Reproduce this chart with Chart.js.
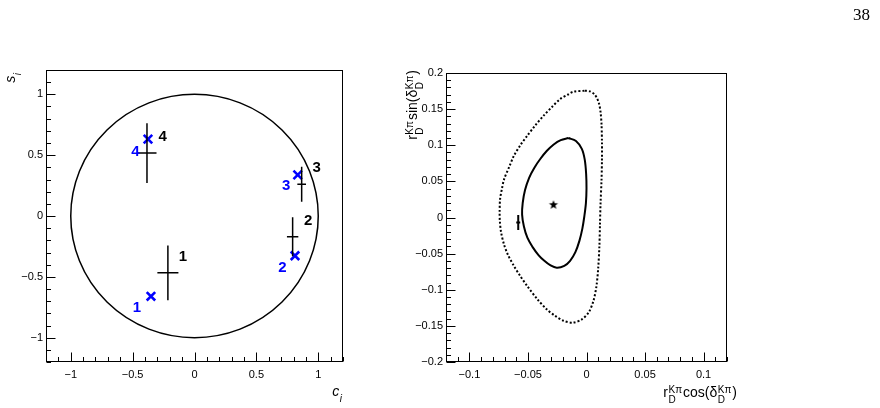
<!DOCTYPE html>
<html><head><meta charset="utf-8">
<script src="https://cdn.jsdelivr.net/npm/chart.js@4.4.0/dist/chart.umd.min.js"></script>
<style>
html,body{margin:0;padding:0;background:#fff;}
#wrap{position:relative;width:880px;height:408px;overflow:hidden;background:#fff;}
#c1{position:absolute;left:0;top:0;}
#c2{position:absolute;left:380px;top:0;}
#page{position:absolute;left:853px;top:5px;font:17px "Liberation Serif",serif;color:#000;}
</style></head><body>
<div id="wrap">
<canvas id="c1" width="380" height="408"></canvas>
<canvas id="c2" width="500" height="408"></canvas>
<div id="page">38</div>
</div>
<script>
// ---------------- data: left panel (c_i, s_i) ----------------
const binLabels   = ['1', '2', '3', '4'];
const measC       = [-0.215, 0.793, 0.866, -0.384];
const measS       = [-0.467, -0.170, 0.261, 0.517];
const measCErr    = [0.085, 0.046, 0.035, 0.077];
const measSErr    = [0.225, 0.160, 0.144, 0.245];
const predC       = [-0.352, 0.812, 0.834, -0.376];
const predS       = [-0.660, -0.327, 0.338, 0.632];
const measLabelC  = [-0.094, 0.919, 0.987, -0.258];
const measLabelS  = [-0.335, -0.041, 0.394, 0.654];
const predLabelC  = [-0.465, 0.711, 0.740, -0.477];
const predLabelS  = [-0.753, -0.423, 0.247, 0.530];
const circleRadius = 1;
const leftXTickLabels = [-1, -0.5, 0, 0.5, 1];
const leftYTickLabels = [-1, -0.5, 0, 0.5, 1];

// ---------------- data: right panel ----------------
const innerX = [-0.0155, -0.009, -0.004, -0.0015, -0.0003, 0.0, -0.0005, -0.002, -0.0035, -0.006, -0.0095, -0.014, -0.019, -0.0254,
                -0.031, -0.036, -0.041, -0.046, -0.0505, -0.0535, -0.055, -0.0545, -0.0525, -0.049, -0.0445, -0.0395, -0.034, -0.028, -0.022, -0.0155];
const innerY = [0.110, 0.106, 0.095, 0.080, 0.060, 0.040, 0.020, 0.000, -0.015, -0.032, -0.048, -0.060, -0.067, -0.0695,
                -0.066, -0.060, -0.052, -0.041, -0.028, -0.012, 0.004, 0.020, 0.038, 0.055, 0.069, 0.081, 0.092, 0.101, 0.107, 0.110];
const outerX = [-0.0014, 0.003, 0.0065, 0.009, 0.0108, 0.012, 0.0128, 0.0132, 0.0132, 0.0128, 0.012, 0.0115, 0.011, 0.010, 0.0085, 0.006, 0.002, -0.004, -0.0115,
                -0.0195, -0.027, -0.034, -0.042, -0.0507, -0.057, -0.062, -0.067, -0.0705, -0.073, -0.074, -0.0742, -0.0738, -0.0722, -0.0704,
                -0.066, -0.062, -0.0565, -0.0507, -0.044, -0.0366, -0.0295, -0.0225, -0.016, -0.0113, -0.0014];
const outerY = [0.1755, 0.1745, 0.171, 0.165, 0.157, 0.146, 0.130, 0.105, 0.080, 0.050, 0.020, -0.010, -0.040, -0.070, -0.095, -0.115, -0.131, -0.141, -0.1455,
                -0.143, -0.136, -0.127, -0.113, -0.0947, -0.080, -0.067, -0.052, -0.037, -0.020, -0.005, 0.007, 0.0254, 0.040, 0.053,
                0.070, 0.0855, 0.100, 0.113, 0.127, 0.141, 0.153, 0.164, 0.170, 0.174, 0.1755];
const bestFitX = [-0.0282];
const bestFitY = [0.0174];
const extX    = [-0.0583];
const extY    = [-0.0069];
const extXErr = [0.0017];
const extYErr = [0.0105];
const rightXTickLabels = [-0.1, -0.05, 0, 0.05, 0.1];
const rightYTickLabels = [-0.2, -0.15, -0.1, -0.05, 0, 0.05, 0.1, 0.15, 0.2];

// ---------------- helpers ----------------
const FONT = '"Liberation Sans", Arial, Helvetica, sans-serif';
function tickList(min, max, step) {
  const n = Math.round((max - min) / step), out = [];
  for (let i = 0; i <= n; i++) out.push({ value: +(min + i * step).toFixed(6) });
  return out;
}
function fmtTick(v, labels) {
  const hit = labels.find(l => Math.abs(l - v) < 1e-9);
  return hit === undefined ? '' : String(hit).replace('-', '\u2212');
}
function isMajor(v, labels) { return labels.some(l => Math.abs(l - v) < 1e-9); }
function pts(xs, ys) { return xs.map((x, i) => ({ x: x, y: ys[i] })); }
function errorSegments(xs, ys, exs, eys) {
  const out = [];
  xs.forEach((x, i) => {
    out.push({ x: x - exs[i], y: ys[i] }, { x: x + exs[i], y: ys[i] }, { x: x, y: null },
             { x: x, y: ys[i] - eys[i] }, { x: x, y: ys[i] + eys[i] }, { x: x, y: null });
  });
  return out;
}
function starImage(r) {
  const s = Math.ceil(r * 2) + 2, c = document.createElement('canvas');
  c.width = c.height = s;
  const g = c.getContext('2d');
  g.translate(s / 2, s / 2);
  g.beginPath();
  for (let i = 0; i < 10; i++) {
    const rr = i % 2 ? r * 0.42 : r, a = -Math.PI / 2 + i * Math.PI / 5;
    g.lineTo(rr * Math.cos(a), rr * Math.sin(a));
  }
  g.closePath(); g.fillStyle = '#000'; g.fill();
  return c;
}
// rich text: items = [{t, size}] or [{sub, sup, size}]; right aligned at (x,y) baseline
function drawRich(ctx, items, x, y, rotate, mainSize, italic) {
  ctx.save();
  ctx.translate(x, y);
  if (rotate) ctx.rotate(-Math.PI / 2);
  ctx.fillStyle = '#000';
  ctx.textBaseline = 'alphabetic';
  ctx.textAlign = 'left';
  const st = italic ? 'italic ' : '';
  const widths = items.map(it => {
    ctx.font = st + it.size + 'px ' + FONT;
    if (it.t !== undefined) return ctx.measureText(it.t).width;
    const w1 = it.sub ? ctx.measureText(it.sub).width : 0;
    const w2 = it.sup ? ctx.measureText(it.sup).width : 0;
    return Math.max(w1, w2) + 1.5;
  });
  let cx = -widths.reduce((a, b) => a + b, 0);
  items.forEach((it, i) => {
    ctx.font = st + it.size + 'px ' + FONT;
    if (it.t !== undefined) ctx.fillText(it.t, cx, 0);
    else {
      if (it.sup) ctx.fillText(it.sup, cx + 0.5, -0.3 * mainSize);
      if (it.sub) ctx.fillText(it.sub, cx + 0.5, 0.45 * mainSize);
    }
    cx += widths[i];
  });
  ctx.restore();
}
function frameTicksPlugin(xMajor, yMajor, majLen, minLen) {
  return {
    id: 'frameTicks',
    afterDraw(chart) {
      const { ctx, chartArea: a, scales: { x, y } } = chart;
      ctx.save();
      ctx.strokeStyle = '#000';
      ctx.lineWidth = 1;
      ctx.beginPath();
      const L = Math.round(a.left) + 0.5, B = Math.round(a.bottom) - 0.5;
      x.ticks.forEach(t => {
        const px = Math.round(x.getPixelForValue(t.value)) + 0.5;
        const len = isMajor(t.value, xMajor) ? majLen : minLen;
        ctx.moveTo(px, B); ctx.lineTo(px, B - len);
      });
      y.ticks.forEach(t => {
        const py = Math.round(y.getPixelForValue(t.value)) + 0.5;
        const len = isMajor(t.value, yMajor) ? majLen : minLen;
        ctx.moveTo(L, py); ctx.lineTo(L + len, py);
      });
      ctx.stroke();
      ctx.strokeRect(L, Math.round(a.top) + 0.5, Math.round(a.right) - Math.round(a.left) - 1, Math.round(a.bottom) - Math.round(a.top) - 1);
      ctx.restore();
    }
  };
}
function axisOpts(min, max, step, labels, isX) {
  return {
    type: 'linear', min: min, max: max,
    afterFit(s) { if (isX) s.height = 30; else s.width = 40; },
    afterBuildTicks(s) { s.ticks = tickList(min, max, step); },
    grid: { display: false, drawTicks: false },
    border: { display: false },
    ticks: {
      autoSkip: false, maxRotation: 0, minRotation: 0,
      padding: isX ? 6 : 3,
      color: '#000',
      font: { family: FONT, size: 11 },
      callback: v => fmtTick(v, labels)
    }
  };
}

Chart.defaults.animation = false;

// ---------------- left chart ----------------
const circlePlugin = {
  id: 'unitCircle',
  beforeDatasetsDraw(chart) {
    const { ctx, scales: { x, y } } = chart;
    const cx = x.getPixelForValue(0), cy = y.getPixelForValue(0);
    const rx = x.getPixelForValue(circleRadius) - cx, ry = cy - y.getPixelForValue(circleRadius);
    ctx.save();
    ctx.strokeStyle = '#000'; ctx.lineWidth = 1.5;
    ctx.beginPath(); ctx.ellipse(cx, cy, rx, ry, 0, 0, Math.PI * 2); ctx.stroke();
    ctx.restore();
  }
};
const binLabelPlugin = {
  id: 'binLabels',
  afterDatasetsDraw(chart) {
    const { ctx, scales: { x, y } } = chart;
    ctx.save();
    ctx.font = 'bold 15px ' + FONT;
    ctx.textAlign = 'center'; ctx.textBaseline = 'middle';
    binLabels.forEach((t, i) => {
      ctx.fillStyle = '#000';
      ctx.fillText(t, x.getPixelForValue(measLabelC[i]), y.getPixelForValue(measLabelS[i]));
      ctx.fillStyle = '#0000ff';
      ctx.fillText(t, x.getPixelForValue(predLabelC[i]), y.getPixelForValue(predLabelS[i]));
    });
    ctx.restore();
  }
};
const leftTitles = {
  id: 'leftTitles',
  afterDraw(chart) {
    const ctx = chart.ctx;
    drawRich(ctx, [{ t: 's', size: 14 }, { sub: 'i', size: 10 }], 15, 72, true, 14, true);
    drawRich(ctx, [{ t: 'c', size: 14 }, { sub: 'i', size: 10 }], 343, 396, false, 14, true);
  }
};

new Chart(document.getElementById('c1'), {
  type: 'scatter',
  data: {
    datasets: [
      { label: 'measured', data: errorSegments(measC, measS, measCErr, measSErr), showLine: true,
        borderColor: '#000', borderWidth: 1.5, pointRadius: 0, spanGaps: false, tension: 0 },
      { label: 'predicted', data: pts(predC, predS), pointStyle: 'crossRot', pointRadius: 6,
        borderColor: '#0000ff', backgroundColor: '#0000ff', borderWidth: 2.6 }
    ]
  },
  options: {
    responsive: false, devicePixelRatio: 1, events: [],
    layout: { padding: { left: 6, right: 37, top: 70, bottom: 16 } },
    plugins: { legend: { display: false }, tooltip: { enabled: false } },
    scales: {
      x: axisOpts(-1.2, 1.2, 0.1, leftXTickLabels, true),
      y: axisOpts(-1.2, 1.2, 0.1, leftYTickLabels, false)
    }
  },
  plugins: [circlePlugin, binLabelPlugin, frameTicksPlugin(leftXTickLabels, leftYTickLabels, 9, 4.5), leftTitles]
});

// ---------------- right chart ----------------
const rightTitles = {
  id: 'rightTitles',
  afterDraw(chart) {
    const ctx = chart.ctx;
    const title = fn => [{ t: 'r', size: 14 }, { sub: 'D', sup: 'K\u03c0', size: 10 }, { t: fn + '(\u03b4', size: 14 },
                         { sub: 'D', sup: 'K\u03c0', size: 10 }, { t: ')', size: 14 }];
    drawRich(ctx, title('sin'), 37, 70, true, 14, false);
    drawRich(ctx, title('cos'), 357, 397, false, 14, false);
  }
};

new Chart(document.getElementById('c2'), {
  type: 'scatter',
  data: {
    datasets: [
      { label: 'outer', data: pts(outerX, outerY), showLine: true, borderColor: '#000', borderWidth: 2,
        borderDash: [2, 2], pointRadius: 0, tension: 0.3 },
      { label: 'inner', data: pts(innerX, innerY), showLine: true, borderColor: '#000', borderWidth: 2,
        pointRadius: 0, tension: 0.35 },
      { label: 'best fit', data: pts(bestFitX, bestFitY), pointStyle: starImage(4.8), pointRadius: 5 },
      { label: 'external', data: errorSegments(extX, extY, extXErr, extYErr), showLine: true,
        borderColor: '#000', borderWidth: 2, pointRadius: 0, spanGaps: false, tension: 0 }
    ]
  },
  options: {
    responsive: false, devicePixelRatio: 1, events: [],
    layout: { padding: { left: 26, right: 153, top: 73, bottom: 16 } },
    plugins: { legend: { display: false }, tooltip: { enabled: false } },
    scales: {
      x: axisOpts(-0.12, 0.12, 0.01, rightXTickLabels, true),
      y: axisOpts(-0.2, 0.2, 0.01, rightYTickLabels, false)
    }
  },
  plugins: [frameTicksPlugin(rightXTickLabels, rightYTickLabels, 9, 4.5), rightTitles]
});
</script>
</body></html>
